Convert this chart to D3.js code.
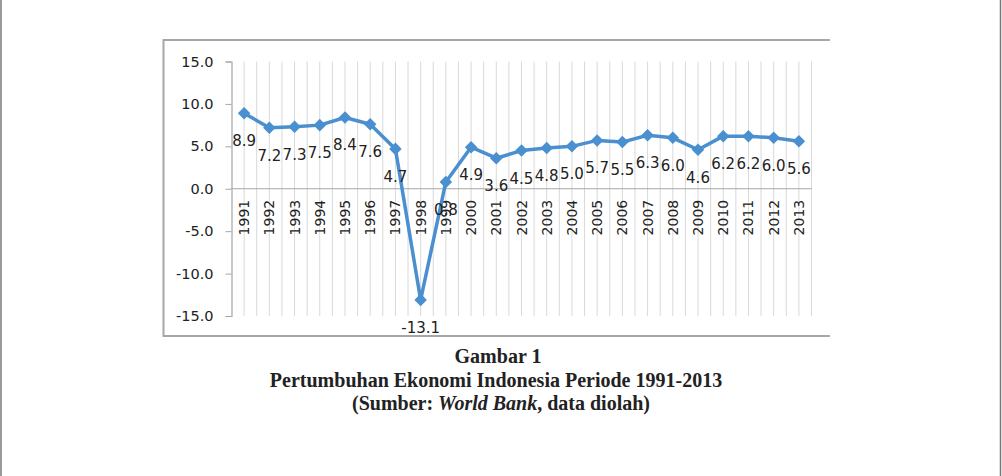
<!DOCTYPE html>
<html>
<head>
<meta charset="utf-8">
<script src="https://d3js.org/d3.v7.min.js"></script>
<style>
  html, body { margin: 0; padding: 0; background: #fff; }
  svg { display: block; }
</style>
</head>
<body>
<div id="chart"></div>
<script>
// data
const years = ['1991','1992','1993','1994','1995','1996','1997','1998','1999','2000','2001','2002',
               '2003','2004','2005','2006','2007','2008','2009','2010','2011','2012','2013'];
const growth = [8.9, 7.2, 7.3, 7.5, 8.4, 7.6, 4.7, -13.1, 0.8, 4.9, 3.6, 4.5,
                4.8, 5.0, 5.7, 5.5, 6.3, 6.0, 4.6, 6.2, 6.2, 6.0, 5.6];
const yTicks = [15, 10, 5, 0, -5, -10, -15];
const captionLines = ['Gambar 1', 'Pertumbuhan Ekonomi Indonesia Periode 1991-2013'];

const W = 1002, H = 476;
const svg = d3.select('#chart').append('svg').attr('width', W).attr('height', H);

// page edges
svg.append('line').attr('x1', 1).attr('x2', 1).attr('y1', 0).attr('y2', H).attr('stroke', '#777').attr('stroke-width', 1.5);
svg.append('line').attr('x1', 1000.5).attr('x2', 1000.5).attr('y1', 0).attr('y2', H).attr('stroke', '#777').attr('stroke-width', 1.5);

// chart frame (open on the right)
svg.append('path')
  .attr('d', 'M830,40 H163.5 V336 H830')
  .attr('fill', 'none').attr('stroke', '#a6a6a6').attr('stroke-width', 2);

const plot = {left: 231.5, right: 811.5, top: 61.5, bottom: 316};

const x = d3.scaleBand().domain(years).range([plot.left, plot.right]);
const y = d3.scaleLinear().domain([-15, 15]).range([plot.bottom, plot.top]);
const cx = d => x(d) + x.bandwidth() / 2;

// vertical gridlines at band edges and centres
const gridX = [];
years.forEach(d => { gridX.push(x(d)); gridX.push(cx(d)); });
gridX.push(plot.right);
svg.append('g').selectAll('line').data(gridX.slice(1)).enter().append('line')
  .attr('x1', d => d).attr('x2', d => d)
  .attr('y1', plot.top).attr('y2', plot.bottom)
  .attr('stroke', '#d9d9d9').attr('stroke-width', 1);

// y axis
const yAxis = svg.append('g').attr('transform', `translate(${plot.left},0)`)
  .call(d3.axisLeft(y).tickValues(yTicks).tickSize(6).tickPadding(12).tickFormat(d3.format('.1f')));
yAxis.select('.domain').attr('stroke', '#a6a6a6').attr('stroke-width', 1.2);
yAxis.selectAll('.tick line').attr('stroke', '#a6a6a6');
yAxis.selectAll('text').attr('font-family', 'DejaVu Sans').attr('font-size', 14.5).attr('fill', '#222');
yAxis.selectAll('.tick text').text(d => d3.format('.1f')(d).replace('\u2212', '-'));

// category axis at zero
svg.append('line').attr('x1', plot.left).attr('x2', plot.right)
  .attr('y1', y(0)).attr('y2', y(0)).attr('stroke', '#a6a6a6').attr('stroke-width', 1.2);

// category labels (rotated)
svg.append('g').selectAll('text').data(years).enter().append('text')
  .attr('transform', d => `translate(${cx(d) + 5},${y(0) + 11}) rotate(-90)`)
  .attr('text-anchor', 'end')
  .attr('font-family', 'DejaVu Sans').attr('font-size', 14).attr('fill', '#222')
  .text(d => d);

// series line
const pts = years.map((d, i) => ({year: d, v: growth[i]}));
svg.append('path').datum(pts)
  .attr('d', d3.line().x(d => cx(d.year)).y(d => y(d.v)))
  .attr('fill', 'none').attr('stroke', '#4a8fd0').attr('stroke-width', 3.5)
  .attr('stroke-linejoin', 'round');

// diamond markers
svg.append('g').selectAll('path').data(pts).enter().append('path')
  .attr('d', d3.symbol().type(d3.symbolDiamond2).size(100))
  .attr('transform', d => `translate(${cx(d.year)},${y(d.v)})`)
  .attr('fill', '#4a8fd0');

// data labels below points
svg.append('g').selectAll('text').data(pts).enter().append('text')
  .attr('x', d => cx(d.year))
  .attr('y', d => y(d.v) + 33)
  .attr('text-anchor', 'middle')
  .attr('font-family', 'DejaVu Sans').attr('font-size', 15).attr('fill', '#222')
  .text(d => d.v.toFixed(1));

// caption
const cap = svg.append('g').attr('font-family', 'Liberation Serif').attr('font-weight', 'bold')
  .attr('font-size', 20).attr('fill', '#222').attr('text-anchor', 'middle');
cap.append('text').attr('x', 498).attr('y', 363).text(captionLines[0]);
cap.append('text').attr('x', 496).attr('y', 387).text(captionLines[1]);
const src = cap.append('text').attr('x', 501).attr('y', 410);
src.append('tspan').text('(Sumber: ');
src.append('tspan').attr('font-style', 'italic').text('World Bank');
src.append('tspan').text(', data diolah)');
</script>
</body>
</html>
